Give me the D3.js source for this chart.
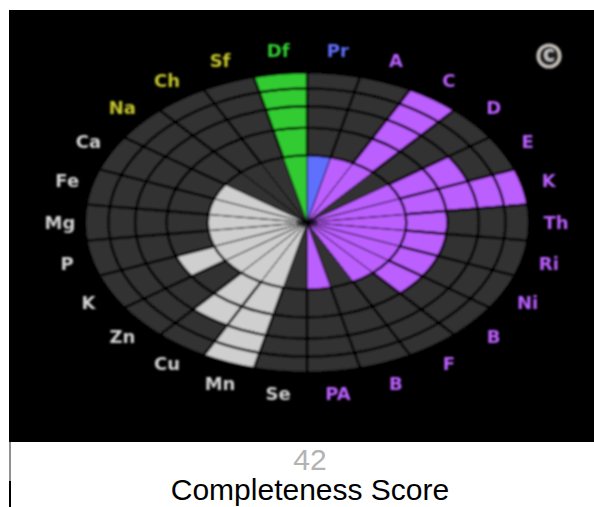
<!DOCTYPE html>
<html><head><meta charset="utf-8">
<script src="https://cdn.jsdelivr.net/npm/d3@7"></script>
<style>html,body{margin:0;padding:0;background:#fff;overflow:hidden}svg{display:block}</style>
</head><body><svg id="c" width="594" height="507"></svg>
<script>
const categories = ["Pr","A","C","D","E","K","Th","Ri","Ni","B","F","B","PA","Se","Mn","Cu","Zn","K","P","Mg","Fe","Ca","Na","Ch","Sf","Df"];
const scores = [1,1,5,0,3,5,2,2,2,2,1,0,1,0,5,3,1,2,1,1,1,1,0,0,0,5];
const groups = ["Pr","V","V","V","V","V","V","V","V","V","V","V","V","M","M","M","M","M","M","M","M","M","E","E","E","Df"];
const groupKeys = ["Pr","V","M","E","Df"];
const fillColors = ["#5f70ff","#bb5fff","#cfcfcf","#b8b832","#33cc33"];
const labelColors = ["#5f70ff","#bb5fff","#d2d2d2","#c4c42e","#33cc33"];
const levels = [1,2,3,4,5];

const svg = d3.select("#c");
const cx=307, cy=222.5, rx=222, ry=150;
const band = d3.scaleBand().domain(d3.range(categories.length)).range([0,2*Math.PI]);
const radius = d3.scaleSqrt().domain([0,5]).range([0,1]);
const fill = d3.scaleOrdinal(groupKeys, fillColors);
const labelFill = d3.scaleOrdinal(groupKeys, labelColors);

svg.append("rect").attr("x",9).attr("y",10).attr("width",585).attr("height",432).attr("fill","#000");
svg.append("line").attr("x1",10).attr("x2",10).attr("y1",442).attr("y2",481).attr("stroke","#222").attr("stroke-width",1);
svg.append("line").attr("x1",10).attr("x2",10).attr("y1",481).attr("y2",507).attr("stroke","#000").attr("stroke-width",2);

const defs = svg.append("defs");
const soft = defs.append("filter").attr("id","soft").attr("x","-5%").attr("y","-5%").attr("width","110%").attr("height","110%");
soft.append("feGaussianBlur").attr("stdDeviation",0.85);

const root = svg.append("g").attr("filter","url(#soft)");
const g = root.append("g").attr("transform",`translate(${cx},${cy}) scale(1,${ry/rx})`);
const arc = d3.arc();
const cells = [];
categories.forEach((c,i)=>levels.forEach(l=>cells.push({i,l,on:l<=scores[i]})));
g.selectAll("path").data(cells).join("path")
 .attr("d",d=>arc({innerRadius:radius(d.l-1)*rx,outerRadius:radius(d.l)*rx,startAngle:band(d.i),endAngle:band(d.i)+band.bandwidth()}))
 .attr("fill",d=>d.on?fill(groups[d.i]):"#333")
 .attr("stroke","#000").attr("stroke-width",d=>d.l===1?0.9:2.4)
 .attr("vector-effect","non-scaling-stroke");

root.selectAll("text").data(categories).join("text")
 .attr("x",(d,i)=>cx+1+Math.sin(band(i)+band.bandwidth()/2)*(rx+26))
 .attr("y",(d,i)=>cy-0.5-Math.cos(band(i)+band.bandwidth()/2)*(ry+22.5))
 .attr("text-anchor","middle").attr("dominant-baseline","central")
 .attr("font-family","DejaVu Sans").attr("font-weight","bold").attr("font-size",18)
 .attr("fill",(d,i)=>labelFill(groups[i])).text(d=>d);

const icon = root.append("g").attr("transform","translate(549,56)");
icon.append("circle").attr("r",11).attr("fill","#222").attr("stroke","#c8c4bc").attr("stroke-width",3.2);
icon.append("text").attr("text-anchor","middle").attr("dominant-baseline","central").attr("font-family","DejaVu Sans").attr("font-weight","bold").attr("font-size",15).attr("fill","#ccc").text("C");

svg.append("text").attr("x",310).attr("y",470).attr("text-anchor","middle").attr("font-family","Liberation Sans").attr("font-size",30).attr("fill","#b3b3b3").text("42");
svg.append("text").attr("x",310).attr("y",500).attr("text-anchor","middle").attr("font-family","Liberation Sans").attr("font-size",30).attr("fill","#000").text("Completeness Score");
</script></body></html>
